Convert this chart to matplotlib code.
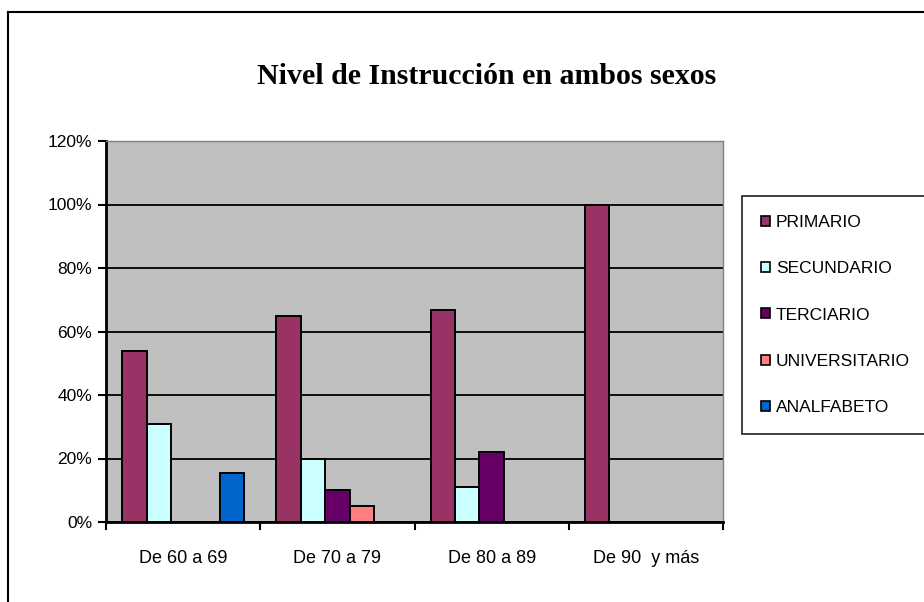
import matplotlib
matplotlib.use("Agg")
import matplotlib.pyplot as plt
import numpy as np
from matplotlib.patches import Patch
from matplotlib.lines import Line2D

categories = ["De 60 a 69", "De 70 a 79", "De 80 a 89", "De 90  y más"]
series = ["PRIMARIO", "SECUNDARIO", "TERCIARIO", "UNIVERSITARIO", "ANALFABETO"]
primario = [53.8, 65.0, 66.7, 100.0]
secundario = [30.8, 20.0, 11.1, 0.0]
terciario = [0.0, 10.0, 22.2, 0.0]
universitario = [0.0, 5.0, 0.0, 0.0]
analfabeto = [15.4, 0.0, 0.0, 0.0]
values = [primario, secundario, terciario, universitario, analfabeto]
colors = ["#993366", "#CCFFFF", "#660066", "#FF8080", "#0066CC"]
yticks = [0, 20, 40, 60, 80, 100, 120]

W, H = 924, 602
fig = plt.figure(figsize=(W / 100, H / 100), dpi=100)
fig.patch.set_facecolor("white")

# outer chart border (left and top visible)
fig.add_artist(Line2D([8 / W, 8 / W], [0, 1 - 12 / H], color="black", lw=1.5, transform=fig.transFigure))
fig.add_artist(Line2D([8 / W, 1], [1 - 12 / H, 1 - 12 / H], color="black", lw=1.5, transform=fig.transFigure))

ax = fig.add_axes([106 / W, 1 - 522 / H, 617 / W, (522 - 141) / H])
ax.set_facecolor("#C0C0C0")

x = np.arange(len(categories))
bw = 0.158
for i, (name, vals, c) in enumerate(zip(series, values, colors)):
    v = np.array(vals)
    mask = v > 0
    ax.bar(x[mask] + (i - 2) * bw, v[mask], width=bw, color=c, edgecolor="black",
           linewidth=1.4, label=name, zorder=3)

ax.set_xlim(-0.5, 3.5)
ax.set_ylim(0, 120)
ax.set_yticks(yticks)
ax.set_yticklabels([f"{t}%" for t in yticks], fontsize=12.5, family="Liberation Sans")
ax.yaxis.grid(True, color="black", lw=1.3, zorder=1)
ax.set_axisbelow(True)
ax.set_xticks(x)
ax.set_xticklabels(categories, fontsize=13, family="Liberation Sans")
ax.tick_params(axis="x", which="major", length=0, pad=20)
ax.set_xticks(np.arange(-0.5, 4.0, 1.0), minor=True)
ax.tick_params(axis="x", which="minor", length=6, width=1.5, direction="out")
ax.tick_params(axis="y", length=6, width=1.5, direction="out", pad=4)

for s in ["top", "right"]:
    ax.spines[s].set_color("#808080")
    ax.spines[s].set_linewidth(1.0)
for s in ["left", "bottom"]:
    ax.spines[s].set_color("black")
    ax.spines[s].set_linewidth(2.0)

fig.text(487 / W, 1 - 76 / H, "Nivel de Instrucción en ambos sexos", ha="center", va="center",
         fontsize=21.5, fontweight="bold", family="Liberation Serif")

handles = [Patch(facecolor=c, edgecolor="black", linewidth=1.2) for c in colors]
leg = fig.legend(handles, series, loc="upper left", bbox_to_anchor=(742 / W, 1 - 196 / H),
                 bbox_transform=fig.transFigure, borderaxespad=0, frameon=True, fancybox=False,
                 edgecolor="black", prop={"family": "Liberation Sans", "size": 12.5},
                 handlelength=0.5, handleheight=0.5, handletextpad=0.35, labelspacing=1.8,
                 borderpad=1.1)
leg.get_frame().set_linewidth(1.3)

fig.savefig("out.png", dpi=100)
